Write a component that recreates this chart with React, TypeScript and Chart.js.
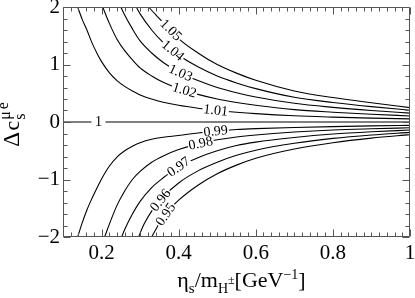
import React, { useEffect, useRef } from 'react';
import { Chart, registerables } from 'chart.js';

Chart.register(...registerables);

// ---- axis ticks ----
const xTickValues = [0.2, 0.4, 0.6, 0.8, 1];
const xTickLabels = ['0.2', '0.4', '0.6', '0.8', '1'];
const yTickValues = [-2, -1, 0, 1, 2];
const yTickLabels = ['\u22122', '\u22121', '0', '1', '2'];

// ---- contour levels ----
const levels = ['1.05', '1.04', '1.03', '1.02', '1.01', '1', '0.99', '0.98', '0.97', '0.96', '0.95'];

// ---- contour lines (eta_s/m_H, delta c) ----
const eta105 = [0.322, 0.34, 0.36, 0.38, 0.4, 0.45, 0.5, 0.55, 0.6, 0.7, 0.8, 0.9, 1.0];
const dc105 = [2.0, 1.87, 1.73, 1.6, 1.45, 1.2, 1.0, 0.85, 0.725, 0.54, 0.425, 0.335, 0.25];

const eta104 = [0.29, 0.3, 0.33, 0.36, 0.4, 0.45, 0.5, 0.55, 0.6, 0.7, 0.8, 0.9, 1.0];
const dc104 = [2.0, 1.88, 1.6, 1.38, 1.16, 0.96, 0.8, 0.68, 0.58, 0.43, 0.34, 0.268, 0.205];

const eta103 = [0.25, 0.26, 0.28, 0.3, 0.33, 0.36, 0.4, 0.45, 0.5, 0.55, 0.6, 0.7, 0.8, 0.9, 1.0];
const dc103 = [2.0, 1.86, 1.62, 1.41, 1.2, 1.035, 0.87, 0.72, 0.6, 0.51, 0.435, 0.325, 0.255, 0.2, 0.155];

const eta102 = [0.203, 0.22, 0.24, 0.26, 0.28, 0.3, 0.33, 0.36, 0.4, 0.45, 0.5, 0.55, 0.6, 0.7, 0.8, 0.9, 1.0];
const dc102 = [2.0, 1.72, 1.44, 1.24, 1.08, 0.94, 0.8, 0.69, 0.58, 0.48, 0.4, 0.34, 0.29, 0.215, 0.17, 0.134, 0.105];

const eta101 = [0.138, 0.15, 0.162, 0.175, 0.19, 0.2, 0.22, 0.24, 0.26, 0.28, 0.3, 0.33, 0.36, 0.4, 0.45, 0.5, 0.55, 0.6, 0.7, 0.8, 0.9, 1.0];
const dc101 = [2.0, 1.78, 1.6, 1.38, 1.17, 1.05, 0.86, 0.72, 0.62, 0.54, 0.47, 0.4, 0.345, 0.29, 0.24, 0.2, 0.17, 0.145, 0.108, 0.085, 0.067, 0.054];

const eta100 = [0.1, 1.0];
const dc100 = [0, 0];

const eta099 = [0.138, 0.15, 0.162, 0.175, 0.19, 0.2, 0.22, 0.24, 0.26, 0.28, 0.3, 0.33, 0.36, 0.4, 0.45, 0.5, 0.55, 0.6, 0.7, 0.8, 0.9, 1.0];
const dc099 = [-2.0, -1.75, -1.53, -1.33, -1.12, -0.99, -0.77, -0.61, -0.5, -0.42, -0.36, -0.3, -0.265, -0.235, -0.19, -0.155, -0.13, -0.115, -0.095, -0.08, -0.068, -0.058];

const eta098 = [0.208, 0.22, 0.24, 0.26, 0.28, 0.3, 0.33, 0.36, 0.4, 0.45, 0.5, 0.55, 0.6, 0.7, 0.8, 0.9, 1.0];
const dc098 = [-2.0, -1.78, -1.45, -1.2, -1.0, -0.86, -0.7, -0.59, -0.48, -0.38, -0.31, -0.26, -0.225, -0.175, -0.14, -0.118, -0.1];

const eta097 = [0.252, 0.26, 0.28, 0.3, 0.33, 0.36, 0.4, 0.45, 0.5, 0.55, 0.6, 0.7, 0.8, 0.9, 1.0];
const dc097 = [-2.0, -1.87, -1.6, -1.38, -1.14, -0.97, -0.78, -0.62, -0.5, -0.41, -0.35, -0.27, -0.21, -0.17, -0.14];

const eta096 = [0.296, 0.31, 0.33, 0.36, 0.4, 0.45, 0.5, 0.55, 0.6, 0.7, 0.8, 0.9, 1.0];
const dc096 = [-2.0, -1.78, -1.55, -1.3, -1.06, -0.85, -0.7, -0.58, -0.49, -0.37, -0.285, -0.225, -0.18];

const eta095 = [0.33, 0.35, 0.37, 0.4, 0.45, 0.5, 0.55, 0.6, 0.7, 0.8, 0.9, 1.0];
const dc095 = [-2.0, -1.76, -1.57, -1.36, -1.1, -0.9, -0.75, -0.63, -0.47, -0.36, -0.28, -0.22];

const etaLines = [eta105, eta104, eta103, eta102, eta101, eta100, eta099, eta098, eta097, eta096, eta095];
const dcLines = [dc105, dc104, dc103, dc102, dc101, dc100, dc099, dc098, dc097, dc096, dc095];

// where along eta each contour's label sits
const labelEta = [0.38, 0.385, 0.405, 0.415, 0.496, 0.192, 0.496, 0.457, 0.4, 0.353, 0.366];

const SERIF = '"Liberation Serif", "Times New Roman", serif';

const framePlugin = {
  id: 'frameTicks',
  afterDatasetsDraw(chart: any) {
    const ctx = chart.ctx;
    const xs = chart.scales.x;
    const ys = chart.scales.y;
    const { left, right, top, bottom } = chart.chartArea;

    // contour labels
    ctx.save();
    ctx.font = '14px ' + SERIF;
    chart.data.datasets.forEach((ds: any, i: number) => {
      const e = labelEta[i];
      const d = ds.data;
      let k = 0;
      while (k < d.length - 2 && d[k + 1].x < e) k++;
      const x0 = xs.getPixelForValue(d[k].x), y0 = ys.getPixelForValue(d[k].y);
      const x1 = xs.getPixelForValue(d[k + 1].x), y1 = ys.getPixelForValue(d[k + 1].y);
      const t = (e - d[k].x) / (d[k + 1].x - d[k].x);
      const px = x0 + t * (x1 - x0);
      const py = y0 + t * (y1 - y0);
      const ang = Math.atan2(y1 - y0, x1 - x0);
      const txt = levels[i];
      const w = ctx.measureText(txt).width;
      const pad = txt === '1' ? 3.5 : 1;
      ctx.save();
      ctx.translate(px, py);
      ctx.rotate(ang);
      ctx.fillStyle = '#fff';
      ctx.fillRect(-w / 2 - pad, -5, w + 2 * pad, 10);
      ctx.fillStyle = '#000';
      ctx.textAlign = 'center';
      ctx.textBaseline = 'middle';
      ctx.fillText(txt, 0, 0.5);
      ctx.restore();
    });
    ctx.restore();

    // frame and ticks
    ctx.save();
    ctx.strokeStyle = '#555';
    ctx.lineWidth = 1;
    const L = Math.round(left) + 0.5, R = Math.round(right) - 0.5;
    const T = Math.round(top) + 0.5, B = Math.round(bottom) - 0.5;
    ctx.beginPath();
    ctx.rect(L, T, R - L, B - T);
    for (let i = 5; i <= 50; i++) {
      const v = i / 50;
      const len = i % 10 === 0 ? 7 : 4;
      const x = Math.round(xs.getPixelForValue(v)) + 0.5;
      ctx.moveTo(x, B); ctx.lineTo(x, B - len);
      ctx.moveTo(x, T); ctx.lineTo(x, T + len);
    }
    for (let i = -10; i <= 10; i++) {
      const v = i / 5;
      const len = i % 5 === 0 ? 7 : 4;
      const y = Math.round(ys.getPixelForValue(v)) + 0.5;
      ctx.moveTo(L, y); ctx.lineTo(L + len, y);
      ctx.moveTo(R, y); ctx.lineTo(R - len, y);
    }
    ctx.stroke();
    ctx.restore();
  },
  afterDraw(chart: any) {
    const ctx = chart.ctx;
    const { left, right, top, bottom } = chart.chartArea;
    const drawSegs = (segs: [string, number, number][], cx: number, baseline: number) => {
      let total = 0;
      const widths = segs.map(([s, size]) => {
        ctx.font = size + 'px ' + SERIF;
        const w = ctx.measureText(s).width;
        total += w;
        return w;
      });
      let x = cx - total / 2;
      segs.forEach(([s, size, dy], j) => {
        ctx.font = size + 'px ' + SERIF;
        ctx.fillText(s, x, baseline + dy);
        x += widths[j];
      });
    };
    ctx.save();
    ctx.fillStyle = '#000';
    ctx.textBaseline = 'alphabetic';
    ctx.textAlign = 'left';
    // x title
    drawSegs([
      ['\u03b7', 22, 0],
      ['s', 15, 6],
      ['/m', 22, 0],
      ['H', 14, 6],
      ['\u00b1', 12, -3],
      ['[GeV', 22, 0],
      ['\u22121', 14, -8],
      [']', 22, 0],
    ], (left + right) / 2 + 5, 287);
    // y title (rotated)
    ctx.translate(19, (top + bottom) / 2 + 4);
    ctx.rotate(-Math.PI / 2);
    ctx.font = '23px ' + SERIF;
    const wDelta = ctx.measureText('\u0394').width;
    ctx.font = '22px ' + SERIF;
    const wC = ctx.measureText('c').width;
    const wD = wDelta + 1.5 + wC;
    ctx.font = '16px ' + SERIF;
    const wS = ctx.measureText('\u03bce').width;
    const tot = wD + wS;
    const x0 = -tot / 2;
    ctx.font = '23px ' + SERIF;
    ctx.fillText('\u0394', x0, 0);
    ctx.font = '22px ' + SERIF;
    ctx.fillText('c', x0 + wDelta + 1.5, 0);
    ctx.font = '16px ' + SERIF;
    ctx.fillText('\u03bc', x0 + wD + 1, -9);
    const wMu = ctx.measureText('\u03bc').width;
    ctx.fillText('e', x0 + wD + 1 + wMu + 2, -11);
    ctx.fillText('s', x0 + wD + 1, 6);
    ctx.restore();
  },
};

const bgPlugin = {
  id: 'whiteBg',
  beforeDraw(chart: any) {
    const ctx = chart.ctx;
    ctx.save();
    ctx.fillStyle = '#fff';
    ctx.fillRect(0, 0, chart.width, chart.height);
    ctx.restore();
  },
};

export default function App() {
  const ref = useRef<HTMLCanvasElement | null>(null);
  useEffect(() => {
    if (!ref.current) return;
    const datasets = levels.map((lvl, i) => ({
      label: lvl,
      data: etaLines[i].map((x, j) => ({ x, y: dcLines[i][j] })),
      showLine: true,
      pointRadius: 0,
      borderColor: '#000',
      borderWidth: 1.1,
      cubicInterpolationMode: 'monotone' as const,
      fill: false,
    }));
    const chart = new Chart(ref.current, {
      type: 'scatter',
      data: { datasets },
      options: {
        animation: false,
        responsive: false,
        devicePixelRatio: 1,
        layout: { padding: { top: 7, right: 5, left: 0, bottom: 0 } },
        plugins: { legend: { display: false }, tooltip: { enabled: false } },
        scales: {
          x: {
            type: 'linear',
            min: 0.1,
            max: 1,
            grid: { display: false, drawTicks: false },
            border: { display: false },
            afterBuildTicks: (s: any) => { s.ticks = xTickValues.map((v) => ({ value: v })); },
            afterFit: (s: any) => { s.height = 61; s.paddingLeft = 0; s.paddingRight = 0; },
            ticks: {
              autoSkip: false,
              maxRotation: 0,
              padding: 4,
              color: '#000',
              font: { family: SERIF, size: 21 },
              callback: (v: any) => xTickLabels[xTickValues.indexOf(Number(v))] ?? '',
            },
          },
          y: {
            type: 'linear',
            min: -2,
            max: 2,
            grid: { display: false, drawTicks: false },
            border: { display: false },
            afterBuildTicks: (s: any) => { s.ticks = yTickValues.map((v) => ({ value: v })); },
            afterFit: (s: any) => { s.width = 63; s.paddingTop = 0; s.paddingBottom = 0; },
            ticks: {
              autoSkip: false,
              padding: 3,
              color: '#000',
              font: { family: SERIF, size: 21 },
              callback: (v: any) => yTickLabels[yTickValues.indexOf(Number(v))] ?? '',
            },
          },
        },
      },
      plugins: [bgPlugin, framePlugin],
    });
    return () => chart.destroy();
  }, []);
  return (
    <div style={{ position: 'absolute', left: 0, top: 0, width: 415, height: 298, background: '#fff' }}>
      <canvas ref={ref} width={415} height={298} style={{ display: 'block' }} />
    </div>
  );
}
